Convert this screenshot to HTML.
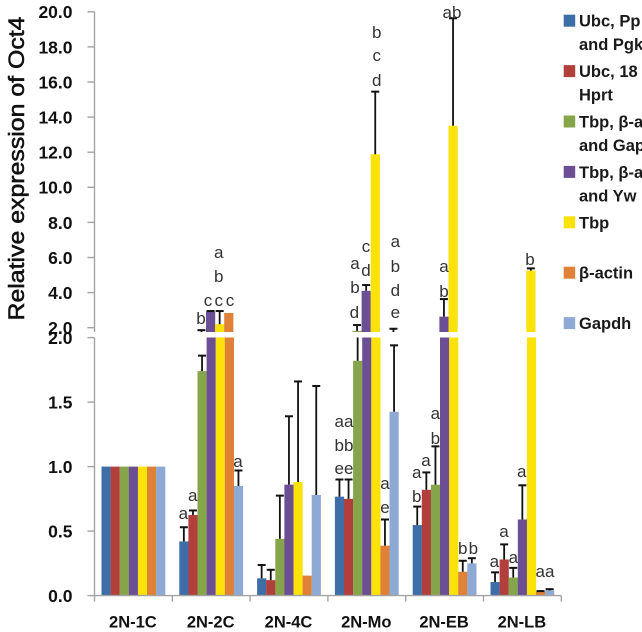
<!DOCTYPE html>
<html>
<head>
<meta charset="utf-8">
<style>
html,body{margin:0;padding:0;background:#fff;width:642px;height:632px;overflow:hidden}
svg{display:block}
.let{font:17px "Liberation Sans",sans-serif;fill:#333;text-anchor:middle}
.leg{font:bold 16.5px "Liberation Sans",sans-serif;fill:#1a1a1a}
</style>
</head>
<body>
<svg id="chart" width="642" height="632" viewBox="0 0 642 632" xmlns="http://www.w3.org/2000/svg">
<defs>
<clipPath id="clip-upper"><rect x="90" y="0" width="500" height="332"/></clipPath>
<clipPath id="clip-lower"><rect x="90" y="337.5" width="500" height="262"/></clipPath>
</defs>
<text transform="translate(24,168.5) rotate(-90)" text-anchor="middle" textLength="304" lengthAdjust="spacingAndGlyphs" style="font:22px 'Liberation Sans',sans-serif;fill:#111;stroke:#111;stroke-width:.55">Relative expression of Oct4</text>
<g id="marks"></g>
<g id="axes"></g>
<g>
<text class="let" x="218.7" y="258">a</text><text class="let" x="218.7" y="282">b</text>
<text class="let" x="208" y="306">c</text><text class="let" x="218.7" y="306">c</text><text class="let" x="230" y="306">c</text>
<text class="let" x="201" y="324">b</text>
<text class="let" x="376.7" y="38">b</text><text class="let" x="376.7" y="61">c</text><text class="let" x="376.7" y="86">d</text>
<text class="let" x="366" y="252">c</text><text class="let" x="355" y="269">a</text><text class="let" x="366" y="276">d</text>
<text class="let" x="355" y="293">b</text><text class="let" x="354.3" y="318">d</text>
<text class="let" x="395.3" y="247">a</text><text class="let" x="395.3" y="272">b</text><text class="let" x="395.3" y="296">d</text><text class="let" x="395.3" y="318">e</text>
<text class="let" x="452" y="18">ab</text>
<text class="let" x="444" y="272">a</text><text class="let" x="444" y="297">b</text>
<text class="let" x="530" y="265">b</text>
<text class="let" x="183.3" y="519">a</text><text class="let" x="192.7" y="501">a</text><text class="let" x="238" y="467">a</text>
<text class="let" x="344" y="427">aa</text><text class="let" x="344" y="451">bb</text><text class="let" x="344" y="474">ee</text>
<text class="let" x="385" y="489">a</text><text class="let" x="385" y="513">e</text>
<text class="let" x="435.3" y="419">a</text><text class="let" x="435.3" y="444">b</text><text class="let" x="426" y="466">a</text>
<text class="let" x="416.7" y="478">a</text><text class="let" x="416.7" y="502">b</text>
<text class="let" x="462.7" y="554">b</text><text class="let" x="473.3" y="554">b</text>
<text class="let" x="504" y="537">a</text><text class="let" x="521.7" y="477">a</text><text class="let" x="494.3" y="567">a</text>
<text class="let" x="513.3" y="563">a</text><text class="let" x="545" y="577">aa</text>
</g>
<g id="legend"></g>
</svg>
<script>
const categories = ['2N-1C', '2N-2C', '2N-4C', '2N-Mo', '2N-EB', '2N-LB'];
const upperTicks = [2, 4, 6, 8, 10, 12, 14, 16, 18, 20];
const lowerTicks = [0, 0.5, 1, 1.5, 2];

const seriesNames = ['ubc-ppia-pgk1', 'ubc-18s-hprt', 'tbp-actin-gapdh', 'tbp-actin-ywhaz', 'tbp', 'beta-actin', 'gapdh'];
const seriesColors = ['#3d6ea8', '#b23f3c', '#86a44a', '#6b4e94', '#fae20a', '#df8136', '#8eaad4'];

const ubcPpiaPgk = [1, 0.42, 0.134, 0.767, 0.547, 0.105];
const ubc18sHprt = [1, 0.625, 0.12, 0.75, 0.82, 0.28];
const tbpActinGapdh = [1, 1.74, 0.44, 1.82, 0.86, 0.14];
const tbpActinYwhaz = [1, 2.91, 0.86, 4.1, 2.63, 0.59];
const tbpOnly = [1, 2.2, 0.88, 11.88, 13.51, 5.25];
const betaActin = [1, 2.84, 0.155, 0.387, 0.185, 0.03];
const gapdhOnly = [1, 0.85, 0.78, 1.425, 0.25, 0.04];

const ubcPpiaPgkErr = [null, 0.53, 0.237, 0.9, 0.69, 0.18];
const ubc18sHprtErr = [null, 0.66, 0.2, 0.9, 0.955, 0.397];
const tbpActinGapdhErr = [null, 1.86, 0.775, 2.15, 1.157, 0.215];
const tbpActinYwhazErr = [null, 2.95, 1.39, 4.43, 3.63, 0.855];
const tbpOnlyErr = [null, 2.95, 1.66, 15.45, 19.63, 5.38];
const betaActinErr = [null, null, null, 0.59, 0.27, 0.035];
const gapdhOnlyErr = [null, 0.97, 1.625, 1.94, 0.29, 0.05];

const allValues = [ubcPpiaPgk, ubc18sHprt, tbpActinGapdh, tbpActinYwhaz, tbpOnly, betaActin, gapdhOnly];
const allErrors = [ubcPpiaPgkErr, ubc18sHprtErr, tbpActinGapdhErr, tbpActinYwhazErr, tbpOnlyErr, betaActinErr, gapdhOnlyErr];

const SVGNS = 'http://www.w3.org/2000/svg';
const axisX = 94.5, groupW = 77.8, barW = 9.1, barPad = 7;
function yLower(v) { return 595.6 - v * 129; }
function yUpper(v) { return 327.7 - (v - 2) * 17.55; }
function groupX(g) { return axisX + g * groupW; }
function barX(g, s) { return groupX(g) + barPad + s * barW; }

function mk(tag, attrs, parent) {
  const el = document.createElementNS(SVGNS, tag);
  for (const k in attrs) el.setAttribute(k, attrs[k]);
  parent.appendChild(el);
  return el;
}

const marks = document.getElementById('marks');
const axes = document.getElementById('axes');

function drawPanel(name, yFn, clipId, shift) {
  const panel = mk('g', { 'clip-path': 'url(#' + clipId + ')' }, marks);
  
  
  allValues.forEach(function (vals, s) {
    vals.forEach(function (v, g) {
      const x = barX(g, s) + shift;
      const top = yFn(v);
      const bar = mk('rect', { x: x, y: top, width: barW + 0.1, height: Math.max(0, yFn(0) - top), fill: seriesColors[s] }, panel);
      
      
    });
  });
  allErrors.forEach(function (errs, s) {
    errs.forEach(function (e, g) {
      if (e === null) return;
      const cx = barX(g, s) + shift + barW / 2;
      const top = yFn(e);
      const base = yFn(allValues[s][g]);
      const stem = mk('line', { x1: cx, x2: cx, y1: base, y2: top, stroke: '#111', 'stroke-width': 1.8 }, panel);
      
      
      const cap = mk('line', { x1: cx - 4, x2: cx + 4, y1: top, y2: top, stroke: '#111', 'stroke-width': 2 }, panel);
      
      
    });
  });
}
drawPanel('lower-panel-bars', yLower, 'clip-lower', 0);
drawPanel('upper-panel-bars', yUpper, 'clip-upper', -0.6);

const axisStyle = { stroke: '#a3a3a3', 'stroke-width': 1.4 };
function axisLine(x1, y1, x2, y2, name) {
  const l = mk('line', Object.assign({ x1: x1, y1: y1, x2: x2, y2: y2 }, axisStyle), axes);
  
  
}
function tickLabel(v, y) {
  const t = mk('text', { x: 72.5, y: y + 6.4, 'text-anchor': 'end', style: "font:bold 17.5px 'Liberation Sans',sans-serif;fill:#111" }, axes);
  t.textContent = v.toFixed(1);
  
  
}
axisLine(axisX, yUpper(20), axisX, 332, 'upper-y-axis');
axisLine(axisX, 337.5, axisX, yLower(0), 'lower-y-axis');
axisLine(axisX, yLower(0), groupX(categories.length), yLower(0), 'x-axis');
upperTicks.forEach(function (v) {
  axisLine(87.5, yUpper(v), axisX, yUpper(v), 'upper-y-tick');
  tickLabel(v, yUpper(v));
});
lowerTicks.forEach(function (v) {
  axisLine(87.5, yLower(v), axisX, yLower(v), 'lower-y-tick');
  tickLabel(v, yLower(v));
});
for (let g = 0; g <= categories.length; g++) {
  axisLine(groupX(g), yLower(0), groupX(g), yLower(0) + 6, 'x-tick');
}
categories.forEach(function (c, g) {
  const t = mk('text', { x: groupX(g) + groupW / 2 - 0.5, y: 627.5, 'text-anchor': 'middle', style: "font:bold 16.5px 'Liberation Sans',sans-serif;fill:#111" }, axes);
  t.textContent = c;
  
  
});

const legendLines = [
  ['Ubc, Pp', 'and Pgk'],
  ['Ubc, 18', 'Hprt'],
  ['Tbp, β-a', 'and Gap'],
  ['Tbp, β-a', 'and Yw'],
  ['Tbp'],
  ['β-actin'],
  ['Gapdh']
];
const legend = document.getElementById('legend');
legendLines.forEach(function (lines, i) {
  const cy = 20.7 + i * 50.4;
  const entry = mk('g', {}, legend);
  
  
  mk('rect', { x: 563.7, y: cy - 6, width: 11.5, height: 12, fill: seriesColors[i] }, entry);
  lines.forEach(function (line, j) {
    const t = mk('text', { x: 579, y: cy + 6 + j * 23.5, 'class': 'leg' }, entry);
    t.textContent = line;
  });
});
</script>
</body>
</html>
